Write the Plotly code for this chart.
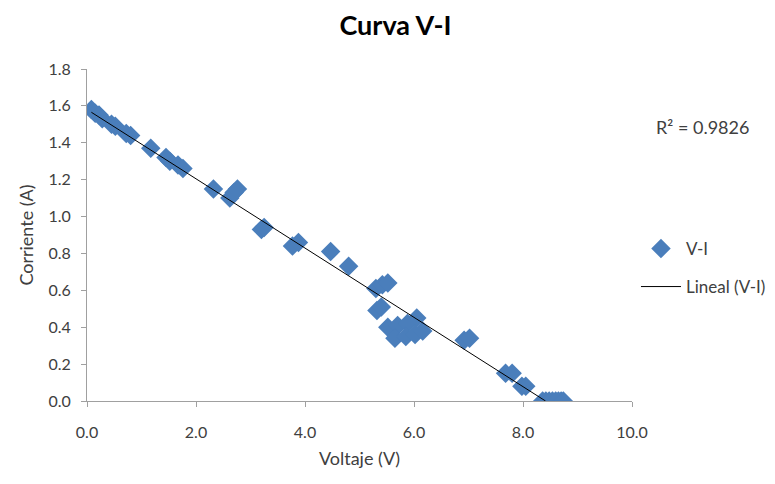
import numpy as np
import plotly.graph_objects as go

voltaje = [0.08, 0.15, 0.22, 0.28, 0.45, 0.52, 0.72, 0.80, 1.17, 1.45, 1.52,
           1.67, 1.76, 2.32, 2.62, 2.70, 2.76, 3.20, 3.25, 3.77, 3.88, 4.47, 4.80,
           5.30, 5.42, 5.52,
           5.32, 5.40,
           5.52, 5.70, 5.88, 6.05,
           5.65, 5.85, 6.02, 6.16,
           6.92, 7.02, 7.68, 7.80, 7.98, 8.05,
           8.36, 8.42, 8.48, 8.54, 8.60, 8.65, 8.70, 8.74]
corriente = [1.58, 1.56, 1.55, 1.53, 1.50, 1.49, 1.45, 1.44, 1.37, 1.32, 1.30,
             1.28, 1.26, 1.15, 1.10, 1.13, 1.15, 0.93, 0.94, 0.84, 0.86, 0.81, 0.73,
             0.61, 0.63, 0.64,
             0.49, 0.51,
             0.40, 0.41, 0.42, 0.45,
             0.34, 0.35, 0.36, 0.38,
             0.33, 0.34, 0.15, 0.15, 0.08, 0.08,
             0.00, 0.00, 0.00, 0.00, 0.00, 0.00, 0.00, 0.00]

x_ticks = [0.0, 2.0, 4.0, 6.0, 8.0, 10.0]
y_ticks = [0.0, 0.2, 0.4, 0.6, 0.8, 1.0, 1.2, 1.4, 1.6, 1.8]
r2_text = "R² = 0.9826"

slope, intercept = np.polyfit(voltaje, corriente, 1)
x_fit = np.array([min(voltaje), -intercept / slope])
y_fit = slope * x_fit + intercept

font_main = "Lato, Open Sans, sans-serif"
txt = "#404040"

# page is offset by 8px body margin
L, T, R, B = 79, 61, 147, 91
PW = 775 - L - R
PH = 484 - T - B

def px_to_paper_x(px):
    return (px - 8 - L) / PW

def px_to_paper_y(py):
    return (484 - B - (py - 8)) / PH

fig = go.Figure()
fig.add_trace(go.Scatter(
    x=voltaje, y=corriente, mode="markers", name="V-I",
    marker=dict(symbol="diamond", size=15, color="#4A7EBB"),
    legend="legend",
))
fig.add_trace(go.Scatter(
    x=x_fit, y=y_fit, mode="lines", name="Lineal (V-I)",
    line=dict(color="#000000", width=1),
    legend="legend2",
))

fig.update_layout(
    width=775, height=484,
    paper_bgcolor="white", plot_bgcolor="white",
    margin=dict(l=L, r=R, t=T, b=B),
    title=dict(text="<b>Curva V-I</b>", x=0.5, xanchor="center", xref="container",
               y=1 - 18 / 484, yanchor="middle", yref="container",
               font=dict(family=font_main, size=27, color="black")),
    font=dict(family=font_main, size=16, color=txt),
    showlegend=True,
    legend=dict(x=px_to_paper_x(640), y=px_to_paper_y(249), xanchor="left", yanchor="middle",
                font=dict(size=17, color=txt), itemwidth=40,
                bgcolor="rgba(0,0,0,0)"),
    legend2=dict(x=px_to_paper_x(640), y=px_to_paper_y(287), xanchor="left", yanchor="middle",
                 font=dict(size=17, color=txt), itemwidth=40,
                 bgcolor="rgba(0,0,0,0)"),
)
fig.update_xaxes(
    range=[0, 10], tickvals=x_ticks, ticktext=[f"{v:.1f}" for v in x_ticks],
    showgrid=False, zeroline=False, showline=True, linecolor="#A0A0A0", linewidth=1,
    ticks="outside", ticklen=5, tickcolor="#A0A0A0", ticklabelstandoff=12,
    automargin=False,
    title=dict(text="Voltaje (V)", font=dict(size=18, color=txt), standoff=12),
    tickfont=dict(size=16),
)
fig.update_yaxes(
    range=[0, 1.8], tickvals=y_ticks, ticktext=[f"{v:.1f}" for v in y_ticks],
    showgrid=False, zeroline=False, showline=True, linecolor="#A0A0A0", linewidth=1,
    ticks="outside", ticklen=5, tickcolor="#A0A0A0", ticklabelstandoff=7,
    automargin=False,
    title=dict(text="Corriente (A)", font=dict(size=18, color=txt), standoff=10),
    tickfont=dict(size=16),
)
fig.add_annotation(
    x=px_to_paper_x(658), y=px_to_paper_y(127), xref="paper", yref="paper",
    xanchor="left", yanchor="middle",
    text=r2_text, showarrow=False, font=dict(size=18, color=txt),
)
fig.write_html("out.html")
